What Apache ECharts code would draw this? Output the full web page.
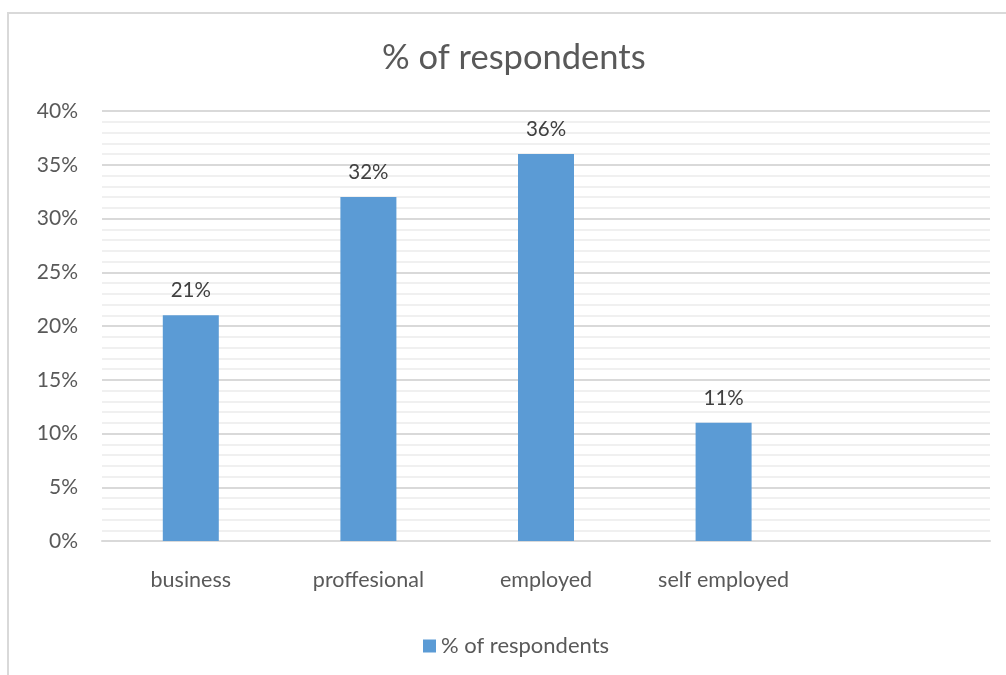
<!DOCTYPE html>
<html>
<head>
<meta charset="utf-8">
<script src="https://cdn.jsdelivr.net/npm/echarts@6/dist/echarts.min.js"></script>
<style>
  html, body { margin: 0; padding: 0; background: #fff; }
  #chart { width: 1006px; height: 675px; }
</style>
</head>
<body>
<div id="chart"></div>
<script>
// Occupation breakdown of survey respondents
const categories = ['business', 'proffesional', 'employed', 'self employed', ''];
const respondents = [21, 32, 36, 11, null];
const yTicks = [0, 5, 10, 15, 20, 25, 30, 35, 40];
const seriesName = '% of respondents';

const FONT = 'Lato, "Open Sans", sans-serif';
const TEXT = '#595959';

const chart = echarts.init(document.getElementById('chart'));
chart.setOption({
  animation: false,
  backgroundColor: '#fff',
  // chart-area frame; its right and bottom edges run past the canvas
  graphic: [{
    type: 'rect',
    shape: { x: 8, y: 13, width: 1100, height: 800 },
    style: { fill: 'none', stroke: '#D9D9D9', lineWidth: 2 },
    silent: true
  }],
  title: {
    text: seriesName,
    left: 377,
    top: 35,
    textStyle: { fontFamily: FONT, fontSize: 34.5, fontWeight: 'normal', color: TEXT }
  },
  legend: {
    bottom: 13,
    left: 418,
    itemWidth: 13,
    itemHeight: 13,
    icon: 'rect',
    itemGap: 10,
    textStyle: { fontFamily: FONT, fontSize: 22, color: TEXT },
    data: [seriesName]
  },
  grid: { left: 102, right: 16, top: 111, bottom: 134, containLabel: false },
  xAxis: {
    type: 'category',
    data: categories,
    axisLine: { lineStyle: { color: '#D9D9D9', width: 2 } },
    axisTick: { show: false },
    axisLabel: { fontFamily: FONT, fontSize: 21.5, color: TEXT, margin: 28 }
  },
  yAxis: {
    type: 'value',
    min: yTicks[0],
    max: yTicks[yTicks.length - 1],
    interval: 5,
    axisLine: { show: false },
    axisTick: { show: false },
    axisLabel: { fontFamily: FONT, fontSize: 21, color: TEXT, margin: 24, formatter: v => v + '%' },
    splitLine: { lineStyle: { color: '#D9D9D9', width: 2 } },
    minorTick: { show: false, splitNumber: 5 },
    minorSplitLine: { show: true, lineStyle: { color: '#F0F0F0', width: 2 } }
  },
  series: [{
    name: seriesName,
    type: 'bar',
    data: respondents,
    barWidth: 56,
    itemStyle: { color: '#5B9BD5' },
    label: {
      show: true,
      position: 'top',
      distance: 14,
      fontFamily: FONT,
      fontSize: 20.5,
      color: '#404040',
      formatter: p => p.value + '%'
    }
  }]
});
</script>
</body>
</html>
